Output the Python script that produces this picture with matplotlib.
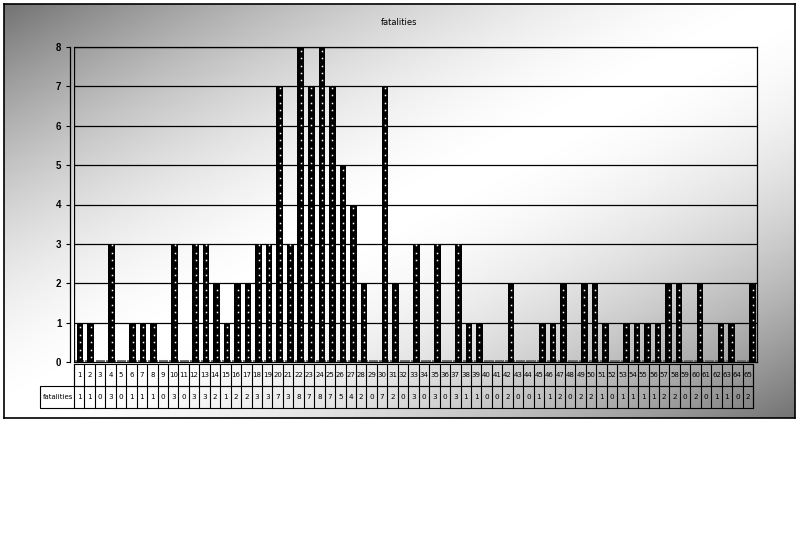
import numpy as np
import matplotlib.pyplot as plt
from matplotlib.patches import Rectangle

categories = [str(i) for i in range(1, 66)]
fatalities = [1, 1, 0, 3, 0, 1, 1, 1, 0, 3, 0, 3, 3, 2, 1, 2, 2, 3, 3, 7,
              3, 8, 7, 8, 7, 5, 4, 2, 0, 7, 2, 0, 3, 0, 3, 0, 3, 1, 1, 0,
              0, 2, 0, 0, 1, 1, 2, 0, 2, 2, 1, 0, 1, 1, 1, 1, 2, 2, 0, 2,
              0, 1, 1, 0, 2]
series_name = "fatalities"
yticks = list(range(0, 9))

W, H = 801, 545
fig = plt.figure(figsize=(W / 100, H / 100), dpi=100)
fig.patch.set_facecolor("white")

def fax(x0, y0, x1, y1):
    # pixel box -> figure fraction
    return [x0 / W, 1 - y1 / H, (x1 - x0) / W, (y1 - y0) / H]

# gradient chart area
bg = fig.add_axes(fax(4, 4, 795, 418))
gx, gy = np.meshgrid(np.linspace(0, 1, 400), np.linspace(0, 1, 220))
d = np.abs((gx + gy) - 1.0)
grad = 1.0 - 0.55 * d ** 1.7
bg.imshow(grad, cmap="gray", vmin=0, vmax=1, aspect="auto", extent=(0, 1, 0, 1),
          origin="upper")
bg.set_xticks([])
bg.set_yticks([])
for s in bg.spines.values():
    s.set_linewidth(1.2)
bg.set_zorder(0)

bg.text(0.499, 0.955, series_name, transform=bg.transAxes, ha="center", va="center",
        fontsize=6)

# main plot area
ax = fig.add_axes(fax(74, 47, 757, 362))
ax.set_zorder(2)
ax.patch.set_alpha(0)
ax.spines["left"].set_position(("outward", 3))
n = len(fatalities)
x = np.arange(n)
ax.bar(x + 0.08, fatalities, width=0.62, color="black", zorder=3)
# white dot pattern on the bars
for xi, v in zip(x, fatalities):
    if v > 0:
        yy = np.arange(0.12, v, 0.19)
        ax.plot(np.full(len(yy), xi + 0.08), yy, ls="none", marker="s", ms=1.1,
                mec="none", mfc="white", zorder=4)
# floor
ax.bar(x, 0.06, width=0.9, bottom=0, color="#707070", zorder=2)

ax.set_xlim(-0.5, n - 0.5)
ax.set_ylim(0, 8)
ax.set_yticks(yticks)
ax.set_yticklabels([str(t) for t in yticks], fontsize=7, fontweight="bold",
                   fontfamily="Liberation Sans")
ax.tick_params(axis="y", length=3, width=0.8, pad=3)
ax.set_xticks([])
for t in yticks[1:]:
    ax.axhline(t, color="black", lw=0.9, zorder=1)
for s in ax.spines.values():
    s.set_linewidth(0.9)
ax.axvline(-0.5, color="black", lw=0.9)

# data table
tab = fig.add_axes(fax(40, 364, 753, 408))
tab.set_zorder(2)
tab.patch.set_alpha(0)
left = -0.5 - (74 - 40) / ((753 - 74) / n)
tab.set_xlim(left, n - 0.5)
tab.set_ylim(0, 2)
tab.set_xticks([])
tab.set_yticks([])
for s in tab.spines.values():
    s.set_visible(False)
tab.add_patch(Rectangle((-0.5, 1), n, 1, fill=False, lw=0.8, clip_on=False))
tab.add_patch(Rectangle((left, 0), n - 0.5 - left, 1, fill=False, lw=0.8, clip_on=False))
for i in range(n + 1):
    tab.plot([i - 0.5, i - 0.5], [0, 2], color="black", lw=0.8, clip_on=False)
for i, (c, v) in enumerate(zip(categories, fatalities)):
    tab.text(i, 1.5, c, ha="center", va="center", fontsize=5,
             fontfamily="Liberation Sans Narrow")
    tab.text(i, 0.5, str(v), ha="center", va="center", fontsize=5.2,
             fontfamily="Liberation Sans Narrow")
tab.text(left + 0.25, 0.5, series_name, ha="left", va="center", fontsize=5,
         fontfamily="Liberation Sans Narrow")

fig.savefig("out.png", dpi=100)
